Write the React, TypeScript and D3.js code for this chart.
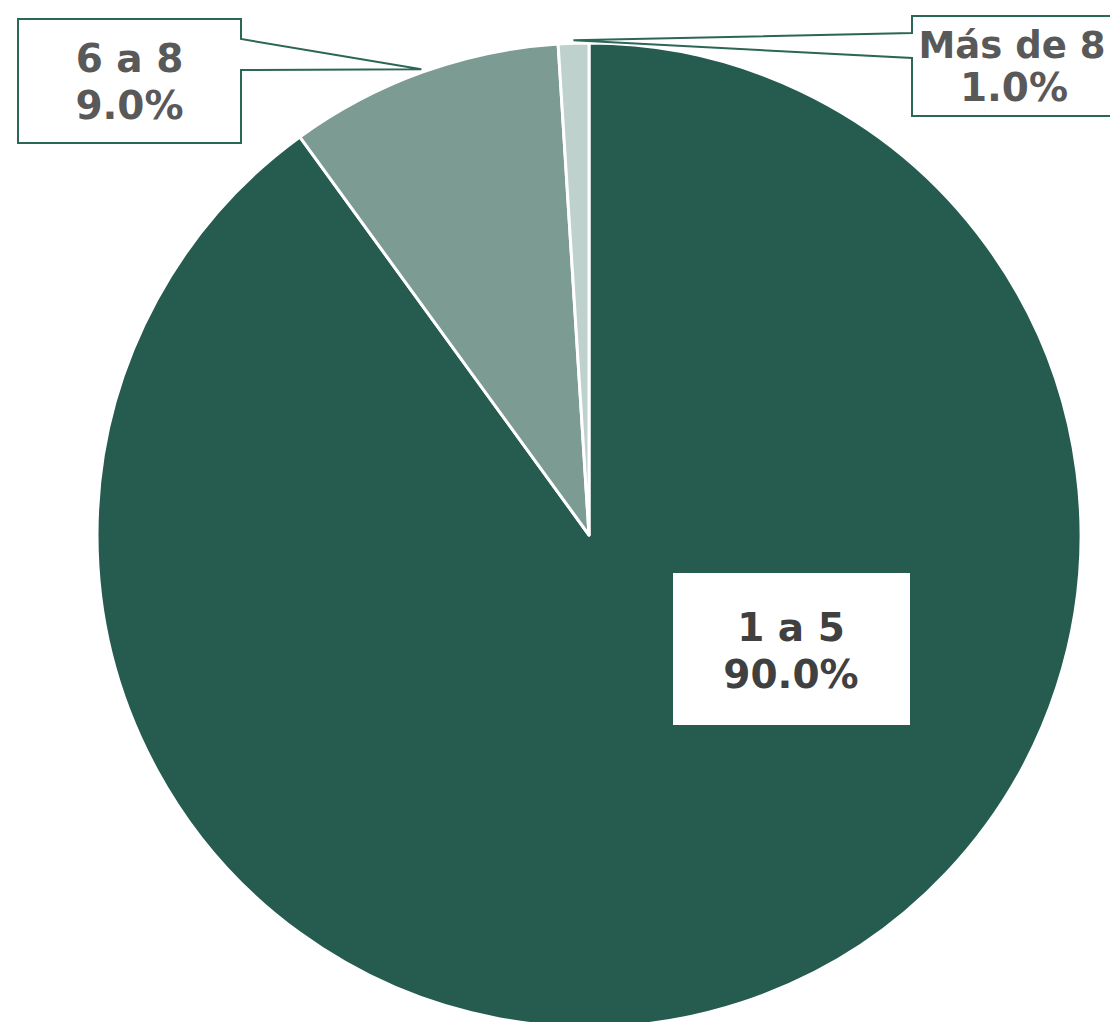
import React from "react";
import * as d3 from "d3";

const categories = ["1 a 5", "6 a 8", "Más de 8"];
const values = [90.0, 9.0, 1.0];
const colors = ["#255C4F", "#7C9B93", "#BFD1CC"];

const W = 1110;
const H = 1022;
const cx = 589;
const cy = 535;
const R = 492;
const FONT = "'DejaVu Sans', Verdana, sans-serif";
const FS = 39;

export default function App() {
  const data = categories.map((c, i) => ({ c, v: values[i] }));
  const pie = d3.pie<any>().value((d) => d.v).sort(null);
  const arcs = pie(data);
  const arc = d3.arc<any>().innerRadius(0).outerRadius(R);
  const tipArc = d3.arc<any>().innerRadius(R + 3).outerRadius(R + 3);
  const fmt = (v: number) => v.toFixed(1) + "%";

  const tip1 = tipArc.centroid(arcs[1]);
  const tip2 = tipArc.centroid(arcs[2]);

  const box1 = { x0: 18, y0: 19, x1: 241, y1: 143, p0: 39, p1: 70 };
  const box2 = { x0: 912, y0: 16, x1: 1120, y1: 116, p0: 33, p1: 58 };

  const call1 = `M${box1.x0},${box1.y0}L${box1.x1},${box1.y0}L${box1.x1},${box1.p0}L${cx + tip1[0]},${cy + tip1[1]}L${box1.x1},${box1.p1}L${box1.x1},${box1.y1}L${box1.x0},${box1.y1}Z`;
  const call2 = `M${box2.x1},${box2.y0}L${box2.x0},${box2.y0}L${box2.x0},${box2.p0}L${cx + tip2[0]},${cy + tip2[1]}L${box2.x0},${box2.p1}L${box2.x0},${box2.y1}L${box2.x1},${box2.y1}Z`;

  return (
    <div style={{ position: "absolute", left: 0, top: 0 }}>
      <svg width={W} height={H} style={{ display: "block" }}>
        <rect width={W} height={H} fill="#fff" />
        <g transform={`translate(${cx},${cy})`}>
          {arcs.map((a, i) => (
            <path key={i} d={arc(a) || ""} fill={colors[i]} stroke="#fff" strokeWidth={3} strokeLinejoin="round" />
          ))}
        </g>
        <rect x={673} y={573} width={237} height={152} fill="#fff" />
        <text x={791} y={641} textAnchor="middle" fontFamily={FONT} fontWeight="bold" fontSize={FS} fill="#404040">
          {categories[0]}
        </text>
        <text x={791} y={688} textAnchor="middle" fontFamily={FONT} fontWeight="bold" fontSize={FS} fill="#404040">
          {fmt(values[0])}
        </text>
        <path d={call1} fill="#fff" stroke="#2B6656" strokeWidth={2} strokeLinejoin="miter" />
        <text x={129.5} y={72} textAnchor="middle" fontFamily={FONT} fontWeight="bold" fontSize={FS} fill="#595959">
          {categories[1]}
        </text>
        <text x={129.5} y={119} textAnchor="middle" fontFamily={FONT} fontWeight="bold" fontSize={FS} fill="#595959">
          {fmt(values[1])}
        </text>
        <path d={call2} fill="#fff" stroke="#2B6656" strokeWidth={2} strokeLinejoin="miter" />
        <text x={1012} y={58} textAnchor="middle" fontFamily={FONT} fontWeight="bold" fontSize={37} fill="#595959">
          {categories[2]}
        </text>
        <text x={1014} y={101} textAnchor="middle" fontFamily={FONT} fontWeight="bold" fontSize={FS} fill="#595959">
          {fmt(values[2])}
        </text>
      </svg>
    </div>
  );
}
